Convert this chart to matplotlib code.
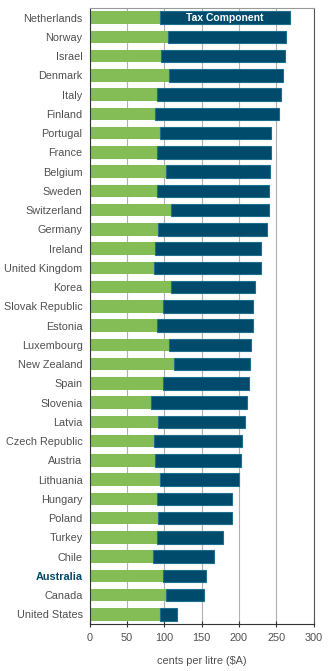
import numpy as np
import matplotlib.pyplot as plt

plt.rcParams['font.family'] = ['Liberation Sans', 'DejaVu Sans']

countries = ["Netherlands", "Norway", "Israel", "Denmark", "Italy", "Finland",
             "Portugal", "France", "Belgium", "Sweden", "Switzerland", "Germany",
             "Ireland", "United Kingdom", "Korea", "Slovak Republic", "Estonia",
             "Luxembourg", "New Zealand", "Spain", "Slovenia", "Latvia",
             "Czech Republic", "Austria", "Lithuania", "Hungary", "Poland",
             "Turkey", "Chile", "Australia", "Canada", "United States"]
# price excluding tax (cents per litre)
base = [95, 105, 96, 106, 91, 88, 94, 91, 103, 91, 109, 92, 88, 87, 109, 99,
        91, 106, 113, 99, 83, 92, 87, 88, 95, 90, 92, 91, 85, 99, 103, 94]
# total price (cents per litre)
total = [268, 263, 261.5, 259, 256, 253.5, 243, 243, 241.5, 240, 240, 237.5,
         229.5, 229.5, 221.5, 219, 219, 216, 214.5, 213.5, 210.5, 208, 204,
         202.5, 200, 190.5, 190.5, 178.5, 166.5, 156, 153, 117]

base = np.array(base, dtype=float)
tax = np.array(total) - base
y = np.arange(len(countries))

GREEN = '#84bd56'
TEAL = '#004b6b'

fig = plt.figure(figsize=(3.3, 6.71), dpi=100)
ax = fig.add_axes([89.5/330, 1 - 624/671, 224/330, 616/671])

ax.barh(y, base, height=0.64, color=GREEN, zorder=2)
ax.barh(y, tax, left=base, height=0.64, color=TEAL, edgecolor='#1d6f8f',
        linewidth=0.8, zorder=2)

ax.text(base[0] + tax[0] / 2, y[0], "Tax Component", color='white',
        fontsize=7.5, fontweight='bold', ha='center', va='center', zorder=3)

ax.set_ylim(len(countries) - 0.5, -0.5)
ax.set_xlim(0, 300)
ax.set_xticks(np.arange(0, 301, 50))
ax.set_yticks(y)
ax.set_yticklabels(countries)
for lbl in ax.get_yticklabels():
    lbl.set_color('#505050')
    if lbl.get_text() == "Australia":
        lbl.set_color(TEAL)
        lbl.set_fontweight('bold')

ax.tick_params(axis='y', length=0, pad=5, labelsize=7.8)
ax.tick_params(axis='x', direction='inout', length=5, width=0.8,
               color='#333333', labelsize=7.8, labelcolor='#505050', pad=4)
ax.xaxis.grid(True, color='#b0b0b0', linewidth=0.8, zorder=0)
ax.set_axisbelow(True)

ax.spines['left'].set_color('#333333')
ax.spines['bottom'].set_color('#333333')
ax.spines['top'].set_color('#999999')
ax.spines['right'].set_color('#555555')
for s in ax.spines.values():
    s.set_linewidth(0.8)

ax.set_xlabel("cents per litre ($A)", fontsize=7.8, color='#505050', labelpad=9)

fig.savefig("out.png", dpi=100)
